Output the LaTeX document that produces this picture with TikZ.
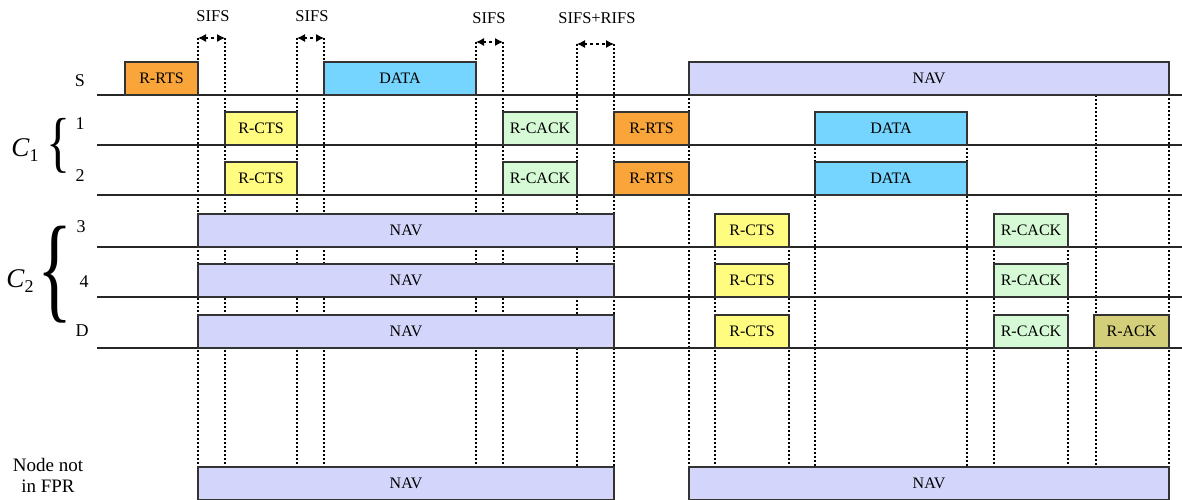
\documentclass[tikz,border=0pt]{standalone}
\usepackage{fontspec}
\usepackage{graphicx}
\setmainfont{Liberation Serif}
\usetikzlibrary{arrows.meta}
\definecolor{crts}{HTML}{F9A53A}
\definecolor{cdata}{HTML}{76D5FE}
\definecolor{cnav}{HTML}{D4D5FB}
\definecolor{ccts}{HTML}{FFFC7F}
\definecolor{ccack}{HTML}{D5FAD5}
\definecolor{cack}{HTML}{D3CE7A}
\definecolor{cedge}{HTML}{333333}
\tikzset{
  pkt/.style={draw=cedge, line width=1.1pt, inner sep=0pt, outer sep=0pt,
    minimum height=33pt, anchor=south west, font=\fontsize{16}{16}\selectfont},
  baseln/.style={draw=black!85, line width=1.3pt},
  guide/.style={draw=black, line width=1.1pt, dash pattern=on 2pt off 2pt},
  gap/.style={draw=black, line width=1.1pt, dash pattern=on 3pt off 3pt,
    {Latex[length=8pt,width=8pt]}-{Latex[length=8pt,width=8pt]}},
  lbl/.style={font=\fontsize{18}{18}\selectfont, inner sep=0pt},
  toplbl/.style={font=\fontsize{16.5}{17}\selectfont, inner sep=0pt}
}
\newcommand\pk[6]{\node[pkt,fill=#5,minimum width={#3-#2}] (#1) at (#2,#4) {#6};}
\begin{document}
\begin{tikzpicture}[x=1pt,y=-1pt]
\useasboundingbox (0,0) rectangle (1182,499);
\clip (0,0) rectangle (1182,499);
% guide lines (behind boxes)
\foreach \x/\y in {198/38,225/38,297/38,324/38,476/42,503/42,577/44,614/44,
  689/62,715/214,789/214,815/112,967/112,994/214,1068/214,1096/95,1169/62}
  \draw[guide] (\x,\y) -- (\x,467);
% baselines
\foreach \y in {95,145,195,247,297,348}
  \draw[baseln] (97,\y) -- (1182,\y);
% row S
\pk{sRTS}{125}{198}{95}{crts}{R-RTS}
\pk{sDATA}{324}{476}{95}{cdata}{DATA}
\pk{sNAV}{689}{1169}{95}{cnav}{NAV}
% row 1
\pk{aCTS}{225}{297}{145}{ccts}{R-CTS}
\pk{aCACK}{503}{577}{145}{ccack}{R-CACK}
\pk{aRTS}{614}{689}{145}{crts}{R-RTS}
\pk{aDATA}{815}{967}{145}{cdata}{DATA}
% row 2
\pk{bCTS}{225}{297}{195}{ccts}{R-CTS}
\pk{bCACK}{503}{577}{195}{ccack}{R-CACK}
\pk{bRTS}{614}{689}{195}{crts}{R-RTS}
\pk{bDATA}{815}{967}{195}{cdata}{DATA}
% row 3
\pk{cNAV}{198}{614}{247}{cnav}{NAV}
\pk{cCTS}{715}{789}{247}{ccts}{R-CTS}
\pk{cCACK}{994}{1068}{247}{ccack}{R-CACK}
% row 4
\pk{dNAV}{198}{614}{297}{cnav}{NAV}
\pk{dCTS}{715}{789}{297}{ccts}{R-CTS}
\pk{dCACK}{994}{1068}{297}{ccack}{R-CACK}
% row D
\pk{eNAV}{198}{614}{348}{cnav}{NAV}
\pk{eCTS}{715}{789}{348}{ccts}{R-CTS}
\pk{eCACK}{994}{1068}{348}{ccack}{R-CACK}
\pk{eACK}{1094}{1169}{348}{cack}{R-ACK}
% bottom row
\pk{fNAV1}{198}{614}{500}{cnav}{}
\pk{fNAV2}{689}{1169}{500}{cnav}{}
\node[font=\fontsize{16}{16}\selectfont] (fNAV1t) at (406,483) {NAV};
\node[font=\fontsize{16}{16}\selectfont] (fNAV2t) at (929,483) {NAV};
% interval arrows
\coordinate (g1a) at (198,38); \coordinate (g1b) at (225,38);
\coordinate (g2a) at (297,38); \coordinate (g2b) at (324,38);
\coordinate (g3a) at (476,42); \coordinate (g3b) at (503,42);
\coordinate (g4a) at (577,44); \coordinate (g4b) at (614,44);
\draw[gap] (g1a) -- (g1b);
\draw[gap] (g2a) -- (g2b);
\draw[gap] (g3a) -- (g3b);
\draw[gap] (g4a) -- (g4b);
\node[toplbl] (t1) at (213,16) {SIFS};
\node[toplbl] (t2) at (312,16) {SIFS};
\node[toplbl] (t3) at (489,18) {SIFS};
\node[toplbl] (t4) at (597,18) {SIFS+RIFS};
% row labels
\node[lbl] (lS) at (80,81) {S};
\node[lbl] (l1) at (80,124) {1};
\node[lbl] (l2) at (80,176) {2};
\node[lbl] (l3) at (81,227) {3};
\node[lbl] (l4) at (84,282) {4};
\node[lbl] (lD) at (82,331) {D};
% cluster braces
\node[inner sep=0pt] (br1) at (59,146) {\resizebox*{24pt}{55pt}{\{}};
\node[inner sep=0pt] (br2) at (55,275) {\resizebox*{35pt}{97pt}{\{}};
\node[inner sep=0pt] (c1) at (25,150) {\fontsize{27}{27}\selectfont\textit{C}\raisebox{-5pt}{\fontsize{18}{18}\selectfont 1}};
\node[inner sep=0pt] (c2) at (20,281) {\fontsize{27}{27}\selectfont\textit{C}\raisebox{-5pt}{\fontsize{18}{18}\selectfont 2}};
\node[align=center, font=\fontsize{19}{21}\selectfont, inner sep=0pt] (nf) at (48,475) {Node not\\in FPR};
\end{tikzpicture}
\end{document}
